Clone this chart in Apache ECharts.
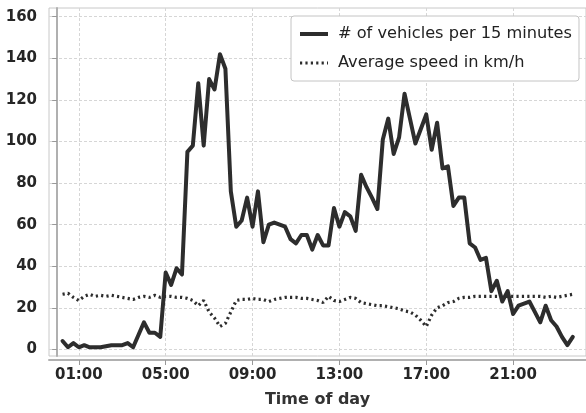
<!DOCTYPE html>
<html>
<head>
<meta charset="utf-8">
<script src="https://cdn.jsdelivr.net/npm/echarts@6/dist/echarts.min.js"></script>
<style>html,body{margin:0;padding:0;background:#fff}#c{width:586px;height:413px}</style>
</head>
<body>
<div id="c"></div>
<script>
var times = ['00:15','00:30','00:45','01:00','01:15','01:30','01:45','02:00','02:15','02:30','02:45','03:00',
  '03:15','03:30','03:45','04:00','04:15','04:30','04:45','05:00','05:15','05:30','05:45','06:00',
  '06:15','06:30','06:45','07:00','07:15','07:30','07:45','08:00','08:15','08:30','08:45','09:00',
  '09:15','09:30','09:45','10:00','10:15','10:30','10:45','11:00','11:15','11:30','11:45','12:00',
  '12:15','12:30','12:45','13:00','13:15','13:30','13:45','14:00','14:15','14:30','14:45','15:00',
  '15:15','15:30','15:45','16:00','16:15','16:30','16:45','17:00','17:15','17:30','17:45','18:00',
  '18:15','18:30','18:45','19:00','19:15','19:30','19:45','20:00','20:15','20:30','20:45','21:00',
  '21:15','21:30','21:45','22:00','22:15','22:30','22:45','23:00','23:15','23:30','23:45'];
var vehicles = [4,1,3,1,2,1,1,1,1.5,2,2,2,
  3,1,7,13,8,8,6,37,31,39,36,95,
  98,128,98,130,125,142,135,76,59,62,73,59,
  76,51.5,60,61,60,59,53,51,55,55,48,55,
  50,50,68,59,66,64,57,84,78,73,67.5,101,
  111,94,102,123,111,99,106,113,96,109,87,88,
  69,73,73,51,49,43,44,28,33,23,28,17,
  21,22,23,18,13,21,14,11,6,2,6];
var speed = [26.5,27,25,23.5,25.5,26.5,25.5,26,25.5,26,25.5,25,
  24.5,24,25,25.5,25,26,25,25.5,25.5,25,25,24.5,
  23.5,21,23.5,18,15,11,12.5,18,23.5,24,24,24.5,
  24,24,23,24,24.5,25,25,25,24.5,24.5,24,23.5,
  22.5,25.5,23.5,23,24,25,24.5,22.5,22,21.5,21,21,
  20.5,20,19.5,18.5,18,16.5,14,11,16.5,20,21,22.5,
  23,24.5,25,25,25.5,25.5,25.5,25.5,25.5,25.5,25.5,25.5,
  25.5,25.5,25.5,25.5,25.5,25,25.5,25,25.5,26,26.5];
var xTickValues = [1,5,9,13,17,21];
var xTickLabels = ['01:00','05:00','09:00','13:00','17:00','21:00'];
var yTickValues = [0,20,40,60,80,100,120,140,160];
var seriesNames = ['# of vehicles per 15 minutes','Average speed in km/h'];

function toHours(t){var p=t.split(':');return (+p[0])+(+p[1])/60;}
var vehData = times.map(function(t,i){return [toHours(t), vehicles[i]];});
var spdData = times.map(function(t,i){return [toHours(t), speed[i]];});

var ink = '#2d2d2d';
var vehLine = {color:ink, width:4, join:'round', cap:'round'};
var spdLine = {color:ink, width:3.2, type:[2.2,3.2], cap:'butt'};
var chart = echarts.init(document.getElementById('c'), null, {renderer:'canvas'});
chart.setOption({
  animation:false,
  backgroundColor:'#ffffff',
  grid:{left:49, right:-3, top:8, bottom:56.3, show:true, borderColor:'#c8c8c8', borderWidth:1, backgroundColor:'#ffffff'},
  legend:{
    left:291, top:16, orient:'vertical',
    data:[{name:seriesNames[0], lineStyle:{width:4, color:ink, cap:'butt'}},
          {name:seriesNames[1], lineStyle:{width:3.2, color:ink, type:[2.2,3.2], cap:'butt'}}],
    itemWidth:28, itemHeight:14, itemGap:9,
    itemStyle:{color:'transparent', borderColor:'transparent', borderWidth:0},
    padding:[8,7,8,7],
    backgroundColor:'#ffffff', borderColor:'#c4c4c4', borderWidth:1, borderRadius:3,
    textStyle:{fontFamily:'DejaVu Sans', fontSize:16.2, color:'#222', lineHeight:20, padding:[0,0,0,5]}
  },
  xAxis:{
    type:'value', min:-0.374, max:24.357, offset:4,
    name:'Time of day', nameLocation:'middle', nameGap:32,
    nameTextStyle:{fontFamily:'DejaVu Sans', fontWeight:'bold', fontSize:16, color:'#333'},
    axisLine:{show:true, onZero:false, lineStyle:{color:'#b0b0b0', width:2}},
    axisTick:{show:true, customValues:xTickValues, length:5, lineStyle:{color:'#999', width:1}},
    axisLabel:{customValues:xTickValues, margin:8, fontFamily:'DejaVu Sans', fontWeight:'bold', fontSize:15, color:'#262626',
      formatter:function(v){var i=xTickValues.indexOf(v);return i>=0?xTickLabels[i]:'';}},
    splitLine:{show:true, lineStyle:{color:'#d6d6d6', width:1, type:[3,2]}}
  },
  yAxis:{
    type:'value', min:-3.2, max:164.2, offset:5,
    axisLine:{show:true, lineStyle:{color:'#b0b0b0', width:2}},
    axisTick:{show:true, customValues:yTickValues, length:5, lineStyle:{color:'#999', width:1}},
    axisLabel:{customValues:yTickValues, margin:7, fontFamily:'DejaVu Sans', fontWeight:'bold', fontSize:15, color:'#262626'},
    splitLine:{show:true, lineStyle:{color:'#d6d6d6', width:1, type:[3,2]}}
  },
  series:[
    {name:seriesNames[0], type:'line', data:vehData, symbol:'none', z:3,
      lineStyle:vehLine, itemStyle:{color:ink}},
    {name:seriesNames[1], type:'line', data:spdData, symbol:'none', z:2,
      lineStyle:spdLine, itemStyle:{color:ink}}
  ]
});
</script>
</body>
</html>
